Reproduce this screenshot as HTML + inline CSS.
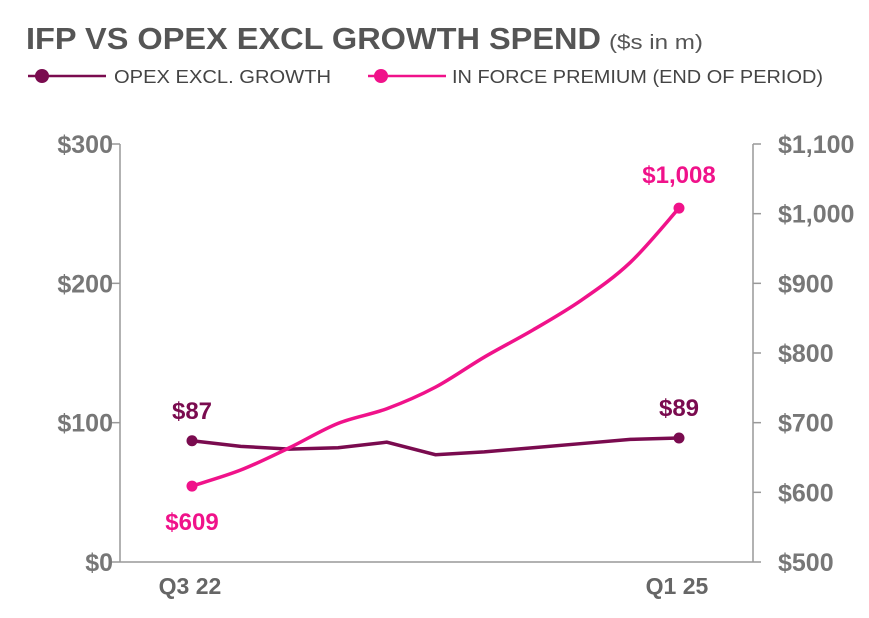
<!DOCTYPE html>
<html><head><meta charset="utf-8"><style>
body{margin:0;background:#fff;width:869px;height:613px;overflow:hidden;font-family:"Liberation Sans",sans-serif}
</style></head><body>
<svg id="chart" width="869" height="613" xmlns="http://www.w3.org/2000/svg">
<text x="26" y="49" font-size="31" font-weight="bold" fill="#555" textLength="575" lengthAdjust="spacingAndGlyphs">IFP VS OPEX EXCL GROWTH SPEND</text>
<text x="609" y="49" font-size="20" fill="#555" textLength="94" lengthAdjust="spacingAndGlyphs">($s in m)</text>
<g>
<line x1="28" y1="76" x2="106" y2="76" stroke="#7a0b4f" stroke-width="2.5"/><circle cx="42" cy="76" r="7" fill="#7a0b4f"/>
<text x="114" y="83" font-size="18" fill="#444" textLength="217" lengthAdjust="spacingAndGlyphs">OPEX EXCL. GROWTH</text></g>
<g>
<line x1="368" y1="76" x2="446" y2="76" stroke="#f0128a" stroke-width="2.5"/><circle cx="381" cy="76" r="7" fill="#f0128a"/>
<text x="452" y="83" font-size="18" fill="#444" textLength="371" lengthAdjust="spacingAndGlyphs">IN FORCE PREMIUM (END OF PERIOD)</text></g>
<g id="axes"></g><g id="marks"></g>
</svg>
<script>
const categories=["Q3 22","Q4 22","Q1 23","Q2 23","Q3 23","Q4 23","Q1 24","Q2 24","Q3 24","Q4 24","Q1 25"];
const opex=[87,83,81,82,86,77,79,82,85,88,89];
const ifp=[609,632,664,699,720,751,794,833,876,930,1008];
const leftTicks=[0,100,200,300];
const rightTicks=[500,600,700,800,900,1000,1100];
const xLabels=["Q3 22","Q1 25"];
const NS="http://www.w3.org/2000/svg";
const x=i=>192+i*(679-192)/(categories.length-1);
const yL=v=>562-v*(562-144)/300;
const yR=v=>562-(v-500)*(562-144)/600;
function mk(tag,attrs,parent,txt){const e=document.createElementNS(NS,tag);for(const k in attrs)e.setAttribute(k,attrs[k]);if(txt!==undefined)e.textContent=txt;parent.appendChild(e);return e;}
const ax=document.getElementById('axes'),mg=document.getElementById('marks');
const fmt=v=>'$'+v.toLocaleString('en-US');
let a=mk('line',{x1:120,y1:144,x2:120,y2:562,stroke:'#999','stroke-width':1.5},ax);

a=mk('line',{x1:753,y1:144,x2:753,y2:562,stroke:'#999','stroke-width':1.5},ax);

a=mk('line',{x1:120,y1:562,x2:753,y2:562,stroke:'#999','stroke-width':1.5},ax);

leftTicks.forEach(v=>{mk('line',{x1:112,y1:yL(v),x2:120,y2:yL(v),stroke:'#999','stroke-width':1.5},ax);
const t=mk('text',{x:113,y:yL(v)+9,'text-anchor':'end','font-size':25,'font-weight':'bold',fill:'#777'},ax,fmt(v));
});
rightTicks.forEach(v=>{mk('line',{x1:753,y1:yR(v),x2:761,y2:yR(v),stroke:'#999','stroke-width':1.5},ax);
const t=mk('text',{x:778,y:yR(v)+9,'font-size':25,'font-weight':'bold',fill:'#777'},ax,fmt(v));
});
xLabels.forEach(l=>{const i=categories.indexOf(l);
const t=mk('text',{x:x(i)-2,y:594,'text-anchor':'middle','font-size':23,'font-weight':'bold',fill:'#666'},ax,l);
});
function smooth(pts){let d='M'+pts[0][0]+','+pts[0][1];for(let i=0;i<pts.length-1;i++){const p0=pts[i-1]||pts[i],p1=pts[i],p2=pts[i+1],p3=pts[i+2]||p2;
d+=' C'+(p1[0]+(p2[0]-p0[0])/6)+','+(p1[1]+(p2[1]-p0[1])/6)+' '+(p2[0]-(p3[0]-p1[0])/6)+','+(p2[1]-(p3[1]-p1[1])/6)+' '+p2[0]+','+p2[1];}return d;}
const op=mk('polyline',{points:opex.map((v,i)=>x(i)+','+yL(v)).join(' '),fill:'none',stroke:'#7a0b4f','stroke-width':3.5},mg);

const ip=mk('path',{d:smooth(ifp.map((v,i)=>[x(i),yR(v)])),fill:'none',stroke:'#f0128a','stroke-width':3.5},mg);

const n=categories.length-1;
[[0,opex,yL,'#7a0b4f',-22],[n,opex,yL,'#7a0b4f',-22],[0,ifp,yR,'#f0128a',44],[n,ifp,yR,'#f0128a',-25]].forEach(([i,s,yf,c,dy])=>{
const p=mk('circle',{cx:x(i),cy:yf(s[i]),r:5.5,fill:c},mg);

const t=mk('text',{x:x(i),y:yf(s[i])+dy,'text-anchor':'middle','font-size':24,'font-weight':'bold',fill:c},mg,fmt(s[i]));
});
</script>
</body></html>
